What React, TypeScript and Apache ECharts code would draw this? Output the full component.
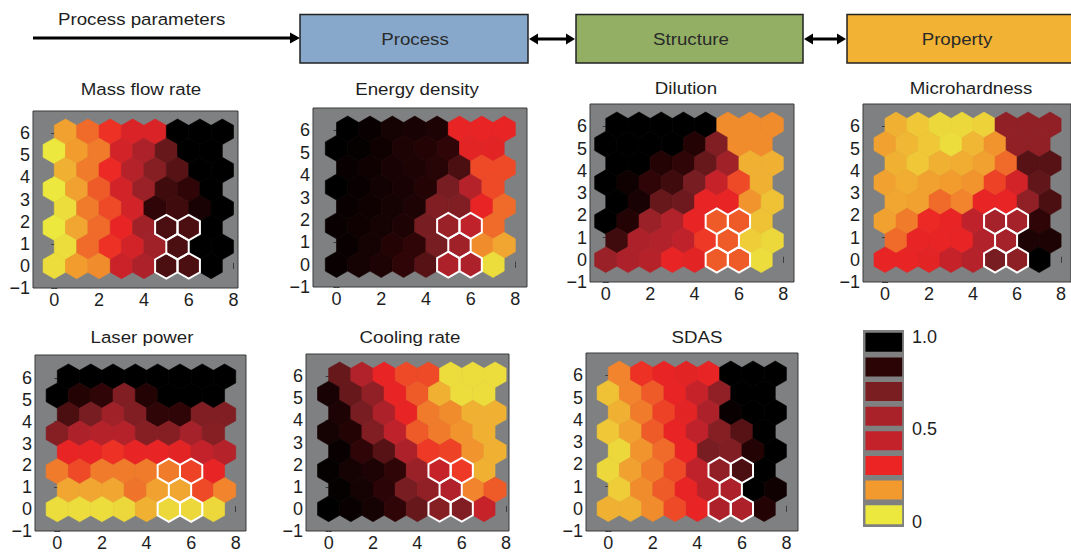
import React, { useEffect, useRef } from "react";
import * as echarts from "echarts";

// ---------- DATA (values 0..1, rows listed from top row (row 7) down to row 0, columns left to right) ----------
const xTickValues = [0, 2, 4, 6, 8];
const yTickValues = [-1, 0, 1, 2, 3, 4, 5, 6];
const colorbarLevels = [0, 1 / 7, 2 / 7, 3 / 7, 4 / 7, 5 / 7, 6 / 7, 1];
const colorbarTicks = [0, 0.5, 1];
const colorbarTickLabels = ["0", "0.5", "1.0"];
const colorScale = ["#ece83e", "#f29a2e", "#ec2424", "#c3222a", "#a9222a", "#7b1e22", "#2b0406", "#000000"];

// highlighted (white outlined) neurons: [column, row]
const highlighted = [
  [5, 0],
  [6, 0],
  [5, 1],
  [5, 2],
  [6, 2],
];

const massFlowRate = [
  [0.13, 0.2, 0.27, 0.35, 0.35, 1, 1, 1],
  [0, 0.14, 0.18, 0.38, 0.55, 0.75, 1, 1],
  [0.1, 0.18, 0.28, 0.5, 0.68, 0.78, 1, 1],
  [0, 0.13, 0.22, 0.38, 0.62, 0.82, 0.85, 1],
  [0.02, 0.18, 0.24, 0.38, 0.85, 0.82, 0.92, 1],
  [0, 0.12, 0.2, 0.3, 0.6, 0.8, 0.8, 1],
  [0.02, 0.2, 0.27, 0.38, 0.6, 0.8, 1, 1],
  [0.02, 0.14, 0.16, 0.4, 0.55, 0.8, 0.8, 1],
];

const energyDensity = [
  [1, 0.97, 0.93, 0.92, 0.9, 0.3, 0.3, 0.3],
  [1, 0.98, 0.95, 0.9, 0.88, 0.85, 0.32, 0.32],
  [0.97, 0.95, 0.92, 0.9, 0.87, 0.8, 0.24, 0.24],
  [1, 0.97, 0.94, 0.92, 0.88, 0.72, 0.5, 0.24],
  [0.97, 0.95, 0.93, 0.9, 0.7, 0.7, 0.3, 0.2],
  [0.97, 0.95, 0.93, 0.9, 0.72, 0.62, 0.45, 0.2],
  [0.97, 0.93, 0.88, 0.85, 0.72, 0.6, 0.16, 0.12],
  [0.97, 0.93, 0.9, 0.85, 0.78, 0.55, 0.55, 0.02],
];

const dilution = [
  [1, 1, 1, 1, 1, 0.16, 0.16, 0.16],
  [1, 1, 1, 1, 0.88, 0.7, 0.16, 0.16],
  [1, 1, 0.88, 0.85, 0.75, 0.6, 0.1, 0.1],
  [1, 0.95, 0.85, 0.82, 0.72, 0.42, 0.24, 0.1],
  [1, 0.92, 0.75, 0.74, 0.3, 0.3, 0.15, 0.07],
  [1, 0.88, 0.62, 0.52, 0.3, 0.22, 0.22, 0.07],
  [0.82, 0.55, 0.52, 0.45, 0.26, 0.22, 0.05, 0.03],
  [0.62, 0.55, 0.5, 0.3, 0.32, 0.22, 0.22, 0.02],
];

const microhardness = [
  [0.1, 0.06, 0.03, 0.03, 0.04, 0.65, 0.65, 0.65],
  [0.13, 0.09, 0.06, 0.02, 0.09, 0.15, 0.65, 0.65],
  [0.1, 0.06, 0.1, 0.11, 0.13, 0.2, 0.78, 0.78],
  [0.13, 0.11, 0.13, 0.14, 0.15, 0.25, 0.38, 0.76],
  [0.12, 0.13, 0.2, 0.17, 0.3, 0.3, 0.65, 0.8],
  [0.13, 0.18, 0.28, 0.3, 0.45, 0.58, 0.58, 0.85],
  [0.2, 0.3, 0.3, 0.3, 0.52, 0.58, 0.9, 0.9],
  [0.3, 0.3, 0.32, 0.42, 0.5, 0.72, 0.66, 1],
];

const laserPower = [
  [1, 1, 1, 1, 1, 1, 1, 1],
  [1, 0.88, 0.85, 0.7, 0.88, 1, 1, 1],
  [0.8, 0.72, 0.6, 0.7, 0.85, 0.85, 0.7, 0.7],
  [0.68, 0.55, 0.5, 0.5, 0.68, 0.68, 0.58, 0.68],
  [0.3, 0.3, 0.27, 0.3, 0.3, 0.32, 0.43, 0.5],
  [0.18, 0.24, 0.18, 0.18, 0.18, 0.18, 0.25, 0.3],
  [0.12, 0.12, 0.12, 0.19, 0.13, 0.12, 0.24, 0.17],
  [0.02, 0.02, 0.02, 0.03, 0.1, 0.03, 0.03, 0.03],
];

const coolingRate = [
  [0.75, 0.52, 0.3, 0.24, 0.24, 0.02, 0.02, 0.02],
  [0.92, 0.75, 0.65, 0.3, 0.22, 0.1, 0.02, 0.02],
  [0.9, 0.72, 0.55, 0.3, 0.18, 0.16, 0.1, 0.1],
  [0.93, 0.88, 0.7, 0.45, 0.22, 0.18, 0.15, 0.1],
  [0.97, 0.85, 0.78, 0.55, 0.26, 0.25, 0.15, 0.1],
  [0.98, 0.93, 0.9, 0.85, 0.62, 0.42, 0.26, 0.1],
  [0.98, 0.93, 0.86, 0.72, 0.65, 0.52, 0.17, 0.22],
  [1, 0.97, 0.93, 0.85, 0.75, 0.68, 0.7, 0.42],
];

const sdas = [
  [0.17, 0.27, 0.3, 0.32, 0.3, 1, 1, 1],
  [0.07, 0.17, 0.22, 0.3, 0.42, 0.65, 1, 1],
  [0.1, 0.18, 0.25, 0.32, 0.55, 0.97, 1, 1],
  [0.06, 0.13, 0.22, 0.3, 0.45, 0.68, 0.78, 1],
  [0.03, 0.15, 0.2, 0.3, 0.72, 0.7, 0.88, 1],
  [0.03, 0.13, 0.18, 0.24, 0.45, 0.65, 0.8, 1],
  [0.05, 0.16, 0.22, 0.3, 0.48, 0.55, 1, 0.95],
  [0.1, 0.1, 0.16, 0.24, 0.3, 0.55, 0.55, 0.88],
];

// ---------- LAYOUT ----------
const panels = [
  { title: "Mass flow rate", values: massFlowRate, box: [33, 111, 205, 177], xr: [-0.95, 8.2], yr: [-1, 7], tx: 141, ty: 89 },
  { title: "Energy density", values: energyDensity, box: [313, 108, 214, 179], xr: [-1.05, 8.52], yr: [-1, 7], tx: 417, ty: 89 },
  { title: "Dilution", values: dilution, box: [590, 104, 204, 178], xr: [-0.71, 8.48], yr: [-1, 7], tx: 686, ty: 88 },
  { title: "Microhardness", values: microhardness, box: [863, 104, 210, 178], xr: [-1.0, 8.45], yr: [-1, 7], tx: 971, ty: 88 },
  { title: "Laser power", values: laserPower, box: [35, 355, 211, 179], xr: [-1.0, 8.46], yr: [-1, 7.05], tx: 142, ty: 337 },
  { title: "Cooling rate", values: coolingRate, box: [306, 354, 203, 179], xr: [-1.02, 8.13], yr: [-1, 7], tx: 410, ty: 337 },
  { title: "SDAS", values: sdas, box: [586, 353, 212, 178], xr: [-1.0, 8.52], yr: [-1, 7], tx: 697, ty: 337 },
];
const colorbarBox = [863, 330, 41, 197];

const FONT = '"Liberation Sans", Arial, Helvetica, sans-serif';
const TXT = "#1e1e1e";
const LABEL_SIZE = 18;
const TEXT_SIZE = 17;
const TEXT_STRETCH = 1.1;
const HEX_R = 1 / Math.sqrt(3);
const ROW_H = Math.sqrt(3) / 2;

function hexPoints(api: any, col: number, row: number) {
  const cx = col + (row % 2 === 1 ? 0.5 : 0);
  const cy = row * ROW_H;
  const pts: number[][] = [];
  for (let k = 0; k < 6; k++) {
    const a = Math.PI / 6 + (k * Math.PI) / 3;
    pts.push(api.coord([cx + HEX_R * Math.cos(a), cy + HEX_R * Math.sin(a)]));
  }
  return pts;
}

function toData(values: number[][]) {
  const out: number[][] = [];
  const n = values.length;
  values.forEach((rowVals, i) => {
    const row = n - 1 - i;
    rowVals.forEach((v, col) => out.push([col, row, v]));
  });
  return out;
}

function fmtTick(v: number) {
  return v < 0 ? "\u2212" + Math.abs(v) : String(v);
}

function textEl(text: string, x: number, y: number, align: string, fill = TXT) {
  return {
    type: "text",
    x,
    y,
    scaleX: TEXT_STRETCH,
    style: { text, fontSize: TEXT_SIZE, fontFamily: FONT, fill, textAlign: align, textVerticalAlign: "middle" },
  };
}

function buildOption() {
  const grid: any[] = [];
  const xAxis: any[] = [];
  const yAxis: any[] = [];
  const series: any[] = [];
  const mainSeriesIdx: number[] = [];
  const graphic: any[] = [];

  const axisLineColor = "#3a3a3a";

  panels.forEach((p, i) => {
    const [l, t, w, h] = p.box;
    grid.push({ left: l, top: t, width: w, height: h, show: true, backgroundColor: "#7f8081", borderColor: axisLineColor, borderWidth: 1 });
    const mkX = (pos: string) => ({
      type: "value",
      gridIndex: i,
      position: pos,
      min: p.xr[0],
      max: p.xr[1],
      axisLine: { show: false },
      axisTick: { show: true, inside: true, length: 3, customValues: xTickValues, lineStyle: { color: axisLineColor } },
      axisLabel: {
        show: pos === "bottom",
        customValues: xTickValues,
        formatter: fmtTick,
        fontSize: LABEL_SIZE,
        fontFamily: FONT,
        color: TXT,
        margin: 3,
      },
      splitLine: { show: false },
    });
    const mkY = (pos: string) => ({
      type: "value",
      gridIndex: i,
      position: pos,
      min: p.yr[0],
      max: p.yr[1],
      axisLine: { show: false },
      axisTick: { show: true, inside: true, length: 3, customValues: yTickValues, lineStyle: { color: axisLineColor } },
      axisLabel: {
        show: pos === "left",
        customValues: yTickValues,
        formatter: fmtTick,
        fontSize: LABEL_SIZE,
        fontFamily: FONT,
        color: TXT,
        margin: 3,
      },
      splitLine: { show: false },
    });
    xAxis.push(mkX("bottom"), mkX("top"));
    yAxis.push(mkY("left"), mkY("right"));

    mainSeriesIdx.push(series.length);
    series.push({
      type: "custom",
      xAxisIndex: 2 * i,
      yAxisIndex: 2 * i,
      silent: true,
      encode: { x: 0, y: 1 },
      data: toData(p.values),
      renderItem: (_params: any, api: any) => {
        const c = api.visual("color");
        return {
          type: "polygon",
          shape: { points: hexPoints(api, api.value(0), api.value(1)) },
          style: { fill: c, stroke: c, lineWidth: 0.6 },
        };
      },
    });
    series.push({
      type: "custom",
      xAxisIndex: 2 * i,
      yAxisIndex: 2 * i,
      silent: true,
      encode: { x: 0, y: 1 },
      data: highlighted,
      renderItem: (_params: any, api: any) => ({
        type: "polygon",
        shape: { points: hexPoints(api, api.value(0), api.value(1)) },
        style: { fill: "none", stroke: "#ffffff", lineWidth: 2 },
      }),
    });

    graphic.push(textEl(p.title, p.tx, p.ty, "center"));
  });

  // colorbar
  const cbGrid = grid.length;
  const [cl, ct, cw, ch] = colorbarBox;
  grid.push({ left: cl, top: ct, width: cw, height: ch, show: true, backgroundColor: "#808080", borderWidth: 0 });
  xAxis.push({ type: "value", gridIndex: cbGrid, min: 0, max: 1, show: false });
  yAxis.push({ type: "value", gridIndex: cbGrid, min: -0.5, max: 7.5, show: false });
  yAxis.push({
    type: "value",
    gridIndex: cbGrid,
    position: "right",
    min: -0.027,
    max: 1.036,
    axisLine: { show: false },
    axisTick: { show: false },
    splitLine: { show: false },
    axisLabel: {
      customValues: colorbarTicks,
      formatter: (v: number) => colorbarTickLabels[colorbarTicks.indexOf(v)] ?? String(v),
      fontSize: LABEL_SIZE,
      fontFamily: FONT,
      color: TXT,
      margin: 8,
    },
  });
  mainSeriesIdx.push(series.length);
  series.push({
    type: "custom",
    xAxisIndex: 2 * panels.length,
    yAxisIndex: 2 * panels.length,
    silent: true,
    encode: { x: 0, y: 1 },
    data: colorbarLevels.map((v, i) => [0, i, v]),
    renderItem: (_params: any, api: any) => {
      const idx = api.value(1);
      const tl = api.coord([0.06, idx + 0.385]);
      const br = api.coord([0.955, idx - 0.385]);
      return {
        type: "rect",
        shape: { x: tl[0], y: tl[1], width: br[0] - tl[0], height: br[1] - tl[1] },
        style: { fill: api.visual("color") },
      };
    },
  });

  // top flow diagram
  const boxStroke = "#222222";
  graphic.push(
    textEl("Process parameters", 58, 19, "left"),
    { type: "line", shape: { x1: 33, y1: 38, x2: 292, y2: 38 }, style: { stroke: "#000", lineWidth: 3 } },
    { type: "polygon", shape: { points: [[300, 38], [290, 32.5], [290, 43.5]] }, style: { fill: "#000" } },
    { type: "rect", shape: { x: 300, y: 14.5, width: 228, height: 48.5 }, style: { fill: "#87a8cb", stroke: boxStroke, lineWidth: 1.5 } },
    textEl("Process", 415, 39, "center", "#2a2a2a"),
    { type: "line", shape: { x1: 536, y1: 39, x2: 568, y2: 39 }, style: { stroke: "#000", lineWidth: 3 } },
    { type: "polygon", shape: { points: [[529, 39], [538, 33.5], [538, 44.5]] }, style: { fill: "#000" } },
    { type: "polygon", shape: { points: [[575, 39], [566, 33.5], [566, 44.5]] }, style: { fill: "#000" } },
    { type: "rect", shape: { x: 576, y: 14.5, width: 227, height: 48.5 }, style: { fill: "#92af64", stroke: boxStroke, lineWidth: 1.5 } },
    textEl("Structure", 691, 39, "center", "#2a2a2a"),
    { type: "line", shape: { x1: 811, y1: 39, x2: 839, y2: 39 }, style: { stroke: "#000", lineWidth: 3 } },
    { type: "polygon", shape: { points: [[804, 39], [813, 33.5], [813, 44.5]] }, style: { fill: "#000" } },
    { type: "polygon", shape: { points: [[846, 39], [837, 33.5], [837, 44.5]] }, style: { fill: "#000" } },
    { type: "rect", shape: { x: 847, y: 14.5, width: 240, height: 48.5 }, style: { fill: "#f2b233", stroke: boxStroke, lineWidth: 1.5 } },
    textEl("Property", 957, 39, "center", "#2a2a2a")
  );

  return {
    animation: false,
    backgroundColor: "#ffffff",
    grid,
    xAxis,
    yAxis,
    visualMap: {
      type: "continuous",
      show: false,
      min: 0,
      max: 1,
      dimension: 2,
      seriesIndex: mainSeriesIdx,
      inRange: { color: colorScale },
    },
    series,
    graphic,
  };
}

export default function App() {
  const ref = useRef<HTMLDivElement>(null);
  useEffect(() => {
    if (!ref.current) return;
    const chart = echarts.init(ref.current, null, { renderer: "svg" });
    chart.setOption(buildOption() as any);
    return () => chart.dispose();
  }, []);
  return (
    <div
      ref={ref}
      style={{ position: "fixed", left: 0, top: 0, width: 1071, height: 552, background: "#fff" }}
    />
  );
}
